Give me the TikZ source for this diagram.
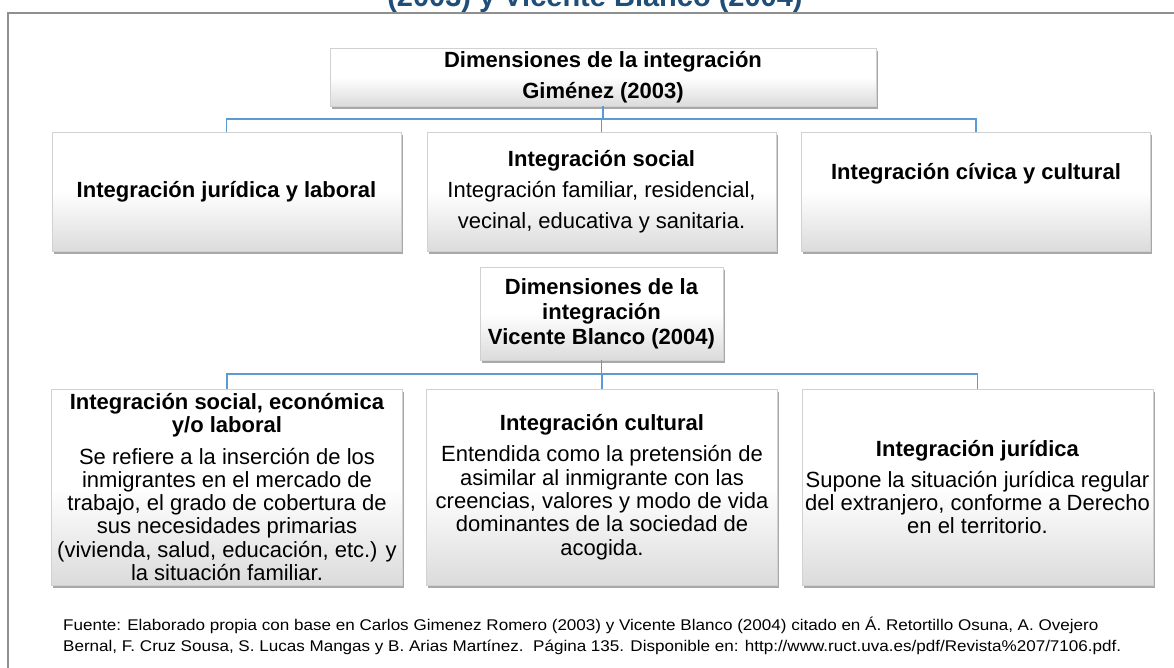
\documentclass[tikz,border=0pt]{standalone}
\usepackage{fontspec}
\setmainfont{Liberation Sans}
\usetikzlibrary{shadows}
\definecolor{conncol}{HTML}{5B9BD5}
\definecolor{titlecol}{HTML}{1F4E79}
\definecolor{framecol}{HTML}{8F8F8F}
\begin{document}
\begin{tikzpicture}[x=1pt,y=-1pt,
  box/.style={draw=black!18, line width=0.4pt, top color=white, bottom color=black!14, middle color=white,
    drop shadow={shadow xshift=1.5pt, shadow yshift=-2.5pt, fill=black!75, opacity=0.45},
    inner sep=0pt, align=center, text=black},
  toprow/.style={box, minimum width=349pt, minimum height=119pt, font=\fontsize{22}{31}\selectfont},
  botrow/.style={box, minimum width=351pt, minimum height=196pt, font=\fontsize{22}{23.3}\selectfont},
  conn/.style={draw=conncol, line width=1.5pt},
  frameline/.style={draw=framecol, line width=2pt},
  foot/.style={anchor=base west, inner sep=0pt, font=\fontsize{15.5}{17}\selectfont}
]
\useasboundingbox (0,0) rectangle (1174,667);
\fill[white] (0,0) rectangle (1174,667);

% frame and cut title
\draw[frameline] (8,690) -- (8,13) -- (1200,13);
\node[anchor=base, inner sep=0pt, text=titlecol, font=\bfseries\fontsize{29}{31}\selectfont] (title) at (595,6) {(2003) y Vicente Blanco (2004)};

% first group
\node[box, minimum width=546pt, minimum height=58pt, font=\bfseries\fontsize{22}{31}\selectfont] (g) at (603,77) {\raisebox{-4pt}{Dimensiones de la integración}\\\raisebox{-4pt}{Giménez (2003)}};
\node[toprow] (t1) at (226.5,191.5) {\textbf{Integración jurídica y laboral}};
\node[toprow] (t2) at (601.5,191.5) {\textbf{Integración social}\\Integración familiar, residencial,\\vecinal, educativa y sanitaria.};
\node[toprow] (t3) at (976,191.5) {\textbf{Integración cívica y cultural}\\\strut};

\draw[conn] (g.south) -- ++(0,13) -| (t1.north);
\draw[conn] (g.south) -- ++(0,13) -| (t2.north);
\draw[conn] (g.south) -- ++(0,13) -| (t3.north);

% second group
\node[box, minimum width=243pt, minimum height=93pt, font=\bfseries\fontsize{22}{25}\selectfont] (v) at (601.5,313.5) {\raisebox{-2pt}{Dimensiones de la}\\\raisebox{-2pt}{integración}\\\raisebox{-2pt}{Vicente Blanco (2004)}};
\node[botrow] (b1) at (227,487) {\textbf{Integración social, económica}\\\textbf{y/o laboral}\\[8pt]Se refiere a la inserción de los\\inmigrantes en el mercado de\\trabajo, el grado de cobertura de\\sus necesidades primarias\\(vivienda, salud, educación, etc.) y\\la situación familiar.};
\node[botrow] (b2) at (602,487) {\textbf{Integración cultural}\\[8pt]Entendida como la pretensión de\\asimilar al inmigrante con las\\creencias, valores y modo de vida\\dominantes de la sociedad de\\acogida.};
\node[botrow] (b3) at (977.5,487) {\textbf{Integración jurídica}\\[8pt]Supone la situación jurídica regular\\del extranjero, conforme a Derecho\\en el territorio.};

\draw[conn] (v.south) -- ++(0,14) -| (b1.north);
\draw[conn] (v.south) -- ++(0,14) -| (b2.north);
\draw[conn] (v.south) -- ++(0,14) -| (b3.north);

% source
\node[foot] (f1) at (63,630) {\scalebox{1.1}[1]{Fuente: Elaborado propia con base en Carlos Gimenez Romero (2003) y Vicente Blanco (2004) citado en Á. Retortillo Osuna, A. Ovejero}};
\node[foot] (f2) at (63,651) {\scalebox{1.1}[1]{Bernal, F. Cruz Sousa, S. Lucas Mangas y B. Arias Martínez.\ \ Página 135. Disponible en: http://www.ruct.uva.es/pdf/Revista\%207/7106.pdf.}};
\end{tikzpicture}
\end{document}
